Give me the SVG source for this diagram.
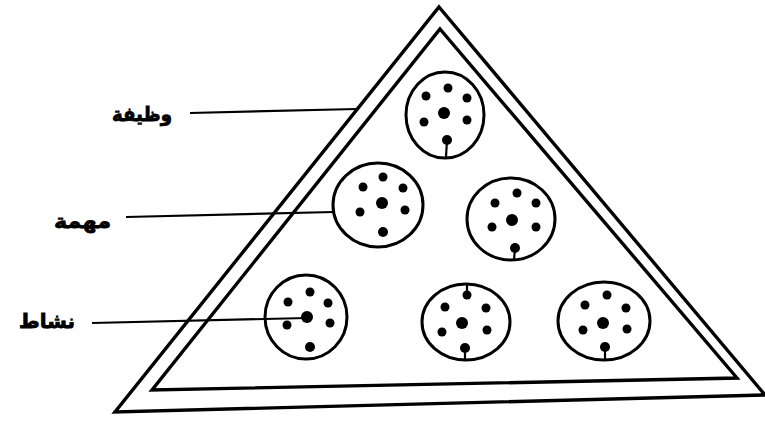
<svg xmlns="http://www.w3.org/2000/svg" width="765" height="421" viewBox="0 0 765 421">
<style>
.tri{fill:none;stroke:#000;stroke-width:3.4;stroke-linejoin:miter}
.c{fill:none;stroke:#000;stroke-width:3}
.d{fill:#000}
.ln{stroke:#000;stroke-width:2.2;fill:none}
.lbl{font-family:"DejaVu Sans",sans-serif;font-weight:bold;font-size:20px;fill:#000;stroke:#000;stroke-width:0.8}
</style>
<rect width="765" height="421" fill="#fff"/>
<g id="pyramid">
<polygon class="tri" points="439,7 765,395 115,412"/>
<polygon class="tri" points="440,29 737,378 152,390"/>
</g>
<g id="connectors">
<line class="ln" x1="190" y1="113" x2="357" y2="109"/>
<line class="ln" x1="126" y1="217" x2="334" y2="212"/>
<line class="ln" x1="92" y1="323" x2="307" y2="318"/>
</g>
<g id="labels">
<text class="lbl" x="112" y="121" textLength="60" lengthAdjust="spacingAndGlyphs">وظيفة</text>
<text class="lbl" x="54" y="228" textLength="57" lengthAdjust="spacingAndGlyphs">مهمة</text>
<text class="lbl" x="19" y="328" textLength="56" lengthAdjust="spacingAndGlyphs">نشاط</text>
</g>
<g id="circle1">
<ellipse class="c" cx="445" cy="115" rx="39" ry="43"/>
<circle class="d" cx="448" cy="88" r="4.5"/><circle class="d" cx="426" cy="96" r="4.5"/><circle class="d" cx="467" cy="98" r="4.5"/>
<circle class="d" cx="444" cy="113" r="6"/><circle class="d" cx="424" cy="122" r="4.5"/><circle class="d" cx="467" cy="120" r="4.5"/>
<circle class="d" cx="447" cy="140" r="5"/><line class="ln" x1="447" y1="140" x2="446" y2="157"/>
</g>
<g id="circle2">
<ellipse class="c" cx="378" cy="205" rx="45" ry="42"/>
<circle class="d" cx="383" cy="177" r="4.5"/><circle class="d" cx="363" cy="187" r="4.5"/><circle class="d" cx="403" cy="188" r="4.5"/>
<circle class="d" cx="382" cy="203" r="6"/><circle class="d" cx="360" cy="212" r="4.5"/><circle class="d" cx="405" cy="210" r="4.5"/>
<circle class="d" cx="383" cy="232" r="5"/>
</g>
<g id="circle3">
<ellipse class="c" cx="511" cy="219" rx="44" ry="41"/>
<circle class="d" cx="517" cy="193" r="4.5"/><circle class="d" cx="495" cy="203" r="4.5"/><circle class="d" cx="536" cy="203" r="4.5"/>
<circle class="d" cx="512" cy="220" r="6"/><circle class="d" cx="492" cy="227" r="4.5"/><circle class="d" cx="536" cy="227" r="4.5"/>
<circle class="d" cx="515" cy="248" r="5"/><line class="ln" x1="515" y1="248" x2="514" y2="260"/>
</g>
<g id="circle4">
<ellipse class="c" cx="306" cy="317" rx="41" ry="42"/>
<circle class="d" cx="310" cy="292" r="4.5"/><circle class="d" cx="288" cy="302" r="4.5"/><circle class="d" cx="328" cy="303" r="4.5"/>
<circle class="d" cx="307" cy="317" r="6"/><circle class="d" cx="287" cy="325" r="4.5"/><circle class="d" cx="330" cy="323" r="4.5"/>
<circle class="d" cx="310" cy="347" r="5"/>
</g>
<g id="circle5">
<ellipse class="c" cx="466" cy="322" rx="44" ry="38"/>
<circle class="d" cx="467" cy="295" r="4.5"/><line class="ln" x1="467" y1="295" x2="467" y2="285"/>
<circle class="d" cx="445" cy="307" r="4.5"/><circle class="d" cx="486" cy="308" r="4.5"/>
<circle class="d" cx="462" cy="323" r="6"/><circle class="d" cx="442" cy="332" r="4.5"/><circle class="d" cx="487" cy="330" r="4.5"/>
<circle class="d" cx="465" cy="348" r="5"/><line class="ln" x1="465" y1="348" x2="465" y2="359"/>
</g>
<g id="circle6">
<ellipse class="c" cx="604" cy="321" rx="46" ry="39"/>
<circle class="d" cx="607" cy="295" r="4.5"/><circle class="d" cx="585" cy="305" r="4.5"/><circle class="d" cx="626" cy="308" r="4.5"/>
<circle class="d" cx="603" cy="323" r="6"/><circle class="d" cx="583" cy="330" r="4.5"/><circle class="d" cx="627" cy="329" r="4.5"/>
<circle class="d" cx="605" cy="347" r="5"/><line class="ln" x1="605" y1="347" x2="605" y2="359"/>
</g>
</svg>
